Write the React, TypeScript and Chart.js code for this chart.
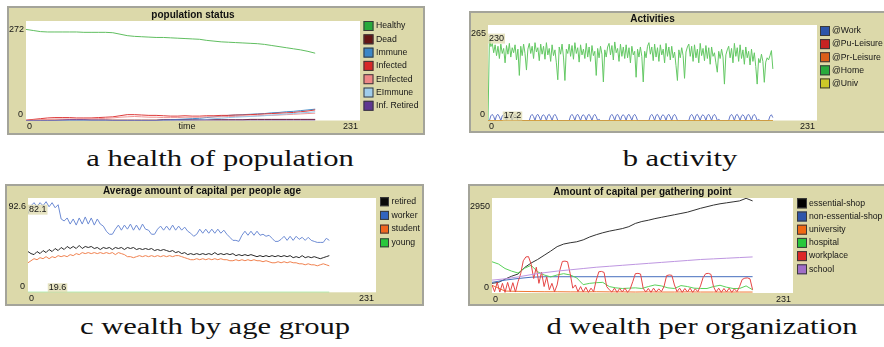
import React, { useEffect, useRef } from 'react';
import { Chart, registerables } from 'chart.js';

Chart.register(...registerables);

const FONT = '"Liberation Sans", Arial, Helvetica, sans-serif';
Chart.defaults.font.family = FONT;

// ---------------- Panel a: population status (t = 0..200, every 5 ticks) ----------------
const popStep = 5;
const healthyValues = [249, 246, 243, 242, 242, 242, 242, 242, 241, 241, 241, 241, 240, 236, 232, 230, 229, 228, 227, 227, 226, 225, 224, 223, 222, 219, 217, 215, 214, 213, 212, 211, 210, 208, 205, 202, 199, 196, 193, 189, 184];
const deadValues = [0, 1, 1, 1, 1, 1, 1, 1, 1, 1, 1, 1, 1, 1, 1, 1, 1, 1, 1, 2, 2, 2, 2, 2, 2, 2, 2, 2, 2, 2, 2, 3, 3, 3, 3, 3, 3, 3, 3, 3, 3];
const immuneValues = [0, 0, 0, 0, 0, 0, 0, 0, 0, 0, 0, 0, 0, 0, 0, 0, 0, 0, 0, 1, 2, 3, 4, 5, 6, 8, 10, 12, 14, 15, 16, 17, 18, 19, 21, 22, 24, 25, 27, 29, 31];
const infectedValues = [1, 3, 5, 7, 8, 8, 8, 7, 7, 7, 8, 9, 10, 13, 16, 16, 15, 14, 14, 13, 12, 12, 13, 12, 12, 13, 13, 14, 14, 15, 15, 16, 17, 18, 19, 20, 21, 22, 24, 26, 29];
const eInfectedValues = [0, 1, 2, 3, 4, 4, 4, 4, 5, 5, 5, 6, 7, 9, 10, 11, 10, 9, 9, 8, 8, 8, 9, 9, 9, 10, 10, 10, 11, 11, 12, 12, 13, 14, 14, 15, 16, 17, 18, 19, 20];
const eImmuneValues = [0, 0, 0, 0, 0, 0, 0, 0, 0, 0, 0, 0, 0, 0, 0, 0, 0, 0, 0, 0, 0, 0, 0, 1, 2, 3, 5, 6, 8, 9, 10, 11, 12, 13, 15, 16, 18, 19, 21, 22, 24];
const infRetiredValues = [0, 0, 0, 0, 0, 1, 2, 2, 2, 1, 1, 1, 0, 0, 0, 0, 0, 0, 0, 1, 1, 1, 1, 1, 1, 1, 1, 1, 1, 1, 1, 1, 1, 1, 1, 1, 1, 1, 1, 1, 1];
const popYMax = 272;

// ---------------- Panel b: activities (every tick, t = 0..200) ----------------
const homeAtTick = [
  0,
  230, 205, 214, 188, 210, 180, 206, 172, 212, 186,
  200, 160, 208, 184, 214, 176, 202, 188, 210, 168,
  198, 125, 206, 180, 212, 186, 140, 198,
  214, 186, 206, 172, 216, 190, 202, 166, 212, 184, 206, 170, 216, 182,
  200, 164, 210, 180, 196, 160, 113, 204, 184, 212, 176, 111, 198, 186,
  212, 178, 208, 170, 216, 186, 202, 162, 210, 182, 198, 172, 214, 176,
  204, 164, 208, 180, 192, 125, 200, 174, 206, 184, 107, 196, 176, 204,
  214, 182, 208, 168, 218, 188, 200, 164, 212, 178, 204, 172, 210, 174,
  202, 160, 206, 182, 192, 120, 198, 176, 204, 178, 107, 192, 174, 206,
  216, 184, 204, 166, 212, 176, 202, 164, 210, 182, 198, 160, 214, 178,
  204, 168, 206, 174, 190, 152, 111, 196, 174, 202, 180, 117, 190, 204,
  212, 178, 206, 164, 210, 174, 198, 160, 214, 180, 200, 166, 208, 172,
  202, 156, 204, 178, 188, 160, 134, 192, 172, 198, 176, 101, 182, 196,
  206, 174, 200, 160, 214, 178, 202, 164, 210, 172, 196, 156, 204, 174,
  192, 154, 198, 164, 188, 150, 101, 172, 160, 184, 164, 106, 162, 174,
  168, 180, 194, 143,
];
const workAtTick = [
  0,
  0, 13, 17, 11, 0, 14, 17, 10, 0, 13, 16, 11, 0, 14, 17, 10, 0, 13, 17, 11, 0, 0, 0, 0, 0, 0, 0, 0,
  0, 13, 17, 11, 0, 14, 17, 10, 0, 13, 16, 11, 0, 14, 17, 10, 0, 13, 17, 11, 0, 0, 0, 0, 0, 0, 0, 0,
  0, 13, 17, 11, 0, 14, 17, 10, 0, 13, 16, 11, 0, 14, 17, 10, 0, 13, 17, 11, 0, 3, 0, 0, 0, 0, 0, 0,
  0, 13, 17, 11, 0, 14, 17, 10, 0, 13, 16, 11, 0, 14, 17, 10, 0, 13, 17, 11, 0, 0, 0, 0, 0, 0, 0, 0,
  0, 13, 17, 11, 0, 14, 17, 10, 0, 13, 16, 11, 0, 14, 17, 10, 0, 13, 17, 11, 0, 0, 0, 0, 0, 0, 0, 0,
  0, 13, 17, 11, 0, 14, 17, 10, 0, 13, 16, 11, 0, 14, 17, 10, 0, 13, 17, 11, 0, 3, 0, 0, 0, 0, 0, 0,
  0, 13, 17, 11, 0, 14, 17, 10, 0, 13, 16, 11, 0, 14, 17, 10, 0, 13, 17, 11, 0, 3, 0, 0, 0, 0, 0, 0,
  0, 12, 16, 8,
];
const flatTimes = [0, 200];
const puLeisureValues = [0, 0];
const prLeisureValues = [0, 0];
const univValues = [0, 0];
const actYMax = 265;

// ---------------- Panel c: capital per age (every 2 ticks) ----------------
const ageStep = 2;
const workerValues = [
  77, 85, 88, 84, 88, 85, 89, 84, 88, 83,
  86, 72, 70, 73, 67, 72, 66, 73, 67, 74,
  67, 73, 66, 72, 67, 65, 60, 57, 57, 62,
  66, 61, 66, 62, 67, 61, 66, 61, 67, 62,
  61, 57, 57, 62, 65, 61, 65, 61, 66, 61,
  65, 61, 64, 60, 58, 55, 57, 62, 58, 62,
  58, 62, 58, 62, 58, 61, 57, 54, 51, 51,
  50, 56, 60, 56, 60, 56, 60, 56, 57, 55,
  56, 53, 50, 50, 52, 55, 51, 55, 51, 55,
  52, 54, 51, 54, 51, 50, 49, 49, 49, 53,
  51,
];
const retiredValues = [
  40, 38, 37, 40, 38, 41, 39, 42, 40, 43,
  41, 44, 42, 45, 43, 45, 43, 46, 43, 45,
  44, 45, 43, 44, 42, 44, 43, 44, 42, 44,
  43, 44, 42, 44, 43, 44, 42, 43, 42, 43,
  42, 43, 41, 42, 41, 42, 41, 40, 41, 39,
  40, 38, 39, 37, 38, 37, 38, 37, 38, 37,
  38, 37, 39, 37, 38, 37, 38, 37, 38, 36,
  37, 36, 37, 36, 37, 36, 35, 36, 35, 36,
  35, 36, 35, 36, 35, 36, 35, 36, 34, 35,
  34, 36, 34, 35, 34, 35, 34, 33, 34, 35,
  36,
];
const studentValues = [
  29, 31, 33, 32, 34, 33, 35, 33, 35, 34,
  36, 35, 36, 35, 37, 36, 38, 37, 39, 38,
  39, 38, 39, 38, 39, 38, 39, 38, 39, 37,
  39, 38, 37, 35, 35, 34, 35, 36, 35, 36,
  35, 36, 35, 36, 35, 36, 35, 36, 35, 36,
  36, 35, 34, 33, 32, 32, 33, 32, 33, 32,
  33, 32, 33, 32, 33, 32, 32, 31, 31, 32,
  31, 32, 31, 32, 31, 32, 31, 31, 30, 31,
  30, 29, 29, 30, 29, 30, 29, 30, 29, 29,
  28, 28, 27, 28, 27, 27, 26, 27, 28, 27,
  26,
];
const youngValues = [0, 0];
const ageYMax = 92.6;

// ---------------- Panel d: capital per gathering point ----------------
const shopStep = 5;
const essentialShopValues = [300, 330, 430, 520, 590, 790, 930, 1040, 1170, 1300, 1440, 1520, 1560, 1590, 1650, 1740, 1810, 1870, 1920, 1960, 2000, 2060, 2160, 2220, 2260, 2310, 2350, 2390, 2430, 2470, 2510, 2570, 2630, 2680, 2730, 2770, 2800, 2830, 2860, 2940, 2860];
const nonEssentialTimes = [0, 10, 20, 30, 40, 200];
const nonEssentialValues = [330, 400, 450, 490, 505, 507];
const slowStep = 10;
const universityValues = [240, 60, 50, 45, 40, 40, 35, 35, 40, 35, 35, 30, 35, 30, 30, 35, 30, 30, 30, 30, 30];
const hospitalValues = [970, 900, 760, 680, 620, 770, 860, 660, 560, 500, 560, 600, 560, 470, 260, 300, 320, 330, 200, 160, 140, 150, 160, 140, 200, 250, 220, 160, 140, 230, 200, 150, 140, 140, 200, 240, 180, 140, 140, 220, 100];
const workStep = 2;
const workplaceValues = [
  250, 40, 330, 30, 300, 20, 330, 40, 320, 30, 350,
  600, 1000, 1120, 1130, 900,
  450, 800, 300, 650, 200, 500, 100, 300, 40, 250,
  700, 980, 990, 970, 600,
  150, 250, 40, 200, 30, 180, 20, 150, 40,
  400, 660, 670, 640, 200,
  100, 30, 150, 20, 140, 30, 150, 20, 120,
  350, 600, 610, 590, 150,
  30, 140, 20, 150, 30, 130, 40, 200,
  540, 560, 550, 250,
  40, 150, 20, 140, 30, 150, 20, 130, 40, 220,
  480, 600, 610, 580, 200,
  30, 150, 20, 140, 30, 150, 20, 130, 40, 200,
  420, 460, 470, 440, 100,
];
const schoolValues = [400, 440, 500, 570, 630, 680, 720, 760, 800, 830, 860, 890, 920, 950, 980, 1010, 1040, 1060, 1080, 1100, 1120];
const capYMax = 2950;

const X_MAX = 231;

// ---------------- helpers ----------------
const stepPoints = (vals: number[], step: number) => vals.map((v, i) => ({ x: i * step, y: v }));
const pairPoints = (ts: number[], vals: number[]) => vals.map((v, i) => ({ x: ts[i], y: v }));

const ds = (label: string, data: any[], line: string, box: string) => ({
  label,
  data,
  borderColor: line,
  backgroundColor: box,
  borderWidth: 1,
  pointRadius: 0,
  tension: 0,
  fill: false,
});

const KHAKI = '#dcd9aa';
const BORDER = 2;
const TEXT = '#161616';
const LEGEND_FONT = `8.7px ${FONT}`;

type Panel = {
  key: string;
  title: string;
  left: number; top: number; width: number; height: number;
  openRight?: boolean;
  plot: { l: number; t: number; r: number; b: number };
  titleY: number;
  legend: { x: number; y: number; gap: number; box: number; textGap: number };
  yMax: number;
  yMaxLabel: string;
  xTitle?: string;
  notes?: { axis: 'x' | 'y'; value: number; text: string }[];
  datasets: any[];
};

const panels: Panel[] = [
  {
    key: 'a', title: 'population status',
    left: 7, top: 6, width: 418, height: 129,
    plot: { l: 26, t: 21, r: 360, b: 120.5 }, titleY: 15,
    legend: { x: 363.5, y: 26, gap: 13.3, box: 10, textGap: 2.5 },
    yMax: popYMax, yMaxLabel: String(popYMax), xTitle: 'time',
    datasets: [
      ds('Healthy', stepPoints(healthyValues, popStep), 'rgb(96,190,96)', 'rgb(40,170,60)'),
      ds('Dead', stepPoints(deadValues, popStep), 'rgb(110,25,25)', 'rgb(100,20,20)'),
      ds('Immune', stepPoints(immuneValues, popStep), 'rgb(70,140,200)', 'rgb(60,135,200)'),
      ds('Infected', stepPoints(infectedValues, popStep), 'rgb(222,60,60)', 'rgb(215,40,40)'),
      ds('EInfected', stepPoints(eInfectedValues, popStep), 'rgb(240,150,150)', 'rgb(238,135,135)'),
      ds('EImmune', stepPoints(eImmuneValues, popStep), 'rgb(150,200,235)', 'rgb(160,205,235)'),
      ds('Inf. Retired', stepPoints(infRetiredValues, popStep), 'rgb(100,60,150)', 'rgb(95,55,145)'),
    ],
  },
  {
    key: 'b', title: 'Activities',
    left: 469, top: 11, width: 415, height: 122, openRight: true,
    plot: { l: 488, t: 25, r: 817, b: 120.5 }, titleY: 19,
    legend: { x: 820, y: 31, gap: 13.1, box: 10, textGap: 2 },
    yMax: actYMax, yMaxLabel: String(actYMax),
    notes: [
      { axis: 'y', value: 230, text: '230' },
      { axis: 'x', value: 17.2, text: '17.2' },
    ],
    datasets: [
      ds('@Work', stepPoints(workAtTick, 1), 'rgb(100,120,200)', 'rgb(45,85,170)'),
      ds('@Pu-Leisure', pairPoints(flatTimes, puLeisureValues), 'rgb(200,40,40)', 'rgb(200,35,35)'),
      ds('@Pr-Leisure', pairPoints(flatTimes, prLeisureValues), 'rgb(225,100,30)', 'rgb(220,95,25)'),
      ds('@Home', stepPoints(homeAtTick, 1), 'rgb(100,200,100)', 'rgb(40,170,60)'),
      ds('@Univ', pairPoints(flatTimes, univValues), 'rgb(205,205,60)', 'rgb(205,200,40)'),
    ],
  },
  {
    key: 'c', title: 'Average amount of capital per people age',
    left: 5, top: 184, width: 419, height: 122,
    plot: { l: 28, t: 198, r: 376, b: 292.3 }, titleY: 191,
    legend: { x: 380, y: 201.7, gap: 13.7, box: 9, textGap: 2.5 },
    yMax: ageYMax, yMaxLabel: String(ageYMax),
    notes: [
      { axis: 'y', value: 82.1, text: '82.1' },
      { axis: 'x', value: 19.6, text: '19.6' },
    ],
    datasets: [
      ds('retired', stepPoints(retiredValues, ageStep), 'rgb(40,40,40)', 'rgb(10,10,10)'),
      ds('worker', stepPoints(workerValues, ageStep), 'rgb(110,140,212)', 'rgb(50,100,190)'),
      ds('student', stepPoints(studentValues, ageStep), 'rgb(240,130,80)', 'rgb(240,100,30)'),
      ds('young', pairPoints(flatTimes, youngValues), 'rgb(80,210,80)', 'rgb(40,200,60)'),
    ],
  },
  {
    key: 'd', title: 'Amount of capital per gathering point',
    left: 468, top: 184, width: 416, height: 122, openRight: true,
    plot: { l: 492, t: 198, r: 793, b: 293 }, titleY: 192,
    legend: { x: 797, y: 203.3, gap: 13.2, box: 10, textGap: 2 },
    yMax: capYMax, yMaxLabel: String(capYMax),
    datasets: [
      ds('essential-shop', stepPoints(essentialShopValues, shopStep), 'rgb(50,50,50)', 'rgb(0,0,0)'),
      ds('non-essential-shop', pairPoints(nonEssentialTimes, nonEssentialValues), 'rgb(70,110,190)', 'rgb(45,85,170)'),
      ds('university', stepPoints(universityValues, slowStep), 'rgb(240,120,50)', 'rgb(240,105,20)'),
      ds('hospital', stepPoints(hospitalValues, shopStep), 'rgb(90,210,90)', 'rgb(40,200,60)'),
      ds('workplace', stepPoints(workplaceValues, workStep), 'rgb(230,70,70)', 'rgb(220,40,40)'),
      ds('school', stepPoints(schoolValues, slowStep), 'rgb(190,150,225)', 'rgb(160,110,200)'),
    ],
  },
];

const NOTE_BG = 'rgba(222,218,172,0.75)';

function makePlugin(p: Panel) {
  const ox = p.left + BORDER;
  const oy = p.top + BORDER;
  return {
    id: 'netlogo_' + p.key,
    beforeDraw(chart: any) {
      const { ctx, chartArea: a } = chart;
      ctx.save();
      ctx.fillStyle = '#ffffff';
      ctx.fillRect(a.left, a.top, a.right - a.left, a.bottom - a.top);
      ctx.restore();
    },
    afterDraw(chart: any) {
      const { ctx, chartArea: a, scales } = chart;
      ctx.save();
      ctx.font = `9px ${FONT}`;
      ctx.fillStyle = TEXT;
      ctx.textBaseline = 'middle';
      // y labels
      ctx.textAlign = 'right';
      ctx.fillText(p.yMaxLabel, a.left - 2, a.top + 9);
      ctx.fillText(String(scales.y.min), a.left - 3, a.bottom - 5.5);
      // x labels
      ctx.textAlign = 'left';
      ctx.fillText(String(scales.x.min), a.left + 1, a.bottom + 6.5);
      ctx.textAlign = 'right';
      ctx.fillText(String(scales.x.max), a.right - 2, a.bottom + 6.5);
      if (p.xTitle) {
        ctx.textAlign = 'center';
        ctx.fillText(p.xTitle, (a.left + a.right) / 2 - 6, a.bottom + 6.5);
      }
      // coordinate notes
      for (const n of p.notes || []) {
        const w = ctx.measureText(n.text).width;
        if (n.axis === 'y') {
          const y = scales.y.getPixelForValue(n.value) + 1;
          ctx.fillStyle = NOTE_BG;
          ctx.fillRect(a.left, y - 5, w + 2, 10);
          ctx.fillStyle = TEXT;
          ctx.textAlign = 'left';
          ctx.textBaseline = 'middle';
          ctx.fillText(n.text, a.left + 1, y);
        } else {
          const x = scales.x.getPixelForValue(n.value);
          ctx.fillStyle = NOTE_BG;
          ctx.fillRect(x - w / 2 - 1, a.bottom - 9, w + 2, 9);
          ctx.fillStyle = TEXT;
          ctx.textAlign = 'center';
          ctx.textBaseline = 'bottom';
          ctx.fillText(n.text, x, a.bottom - 0.5);
        }
      }
      // legend
      const L = p.legend;
      const lx = L.x - ox;
      ctx.font = LEGEND_FONT;
      p.datasets.forEach((d, i) => {
        const cy = L.y - oy + i * L.gap;
        ctx.fillStyle = d.backgroundColor;
        ctx.fillRect(lx, cy - L.box / 2, L.box, L.box);
        ctx.strokeStyle = '#3a3a3a';
        ctx.lineWidth = 1;
        ctx.strokeRect(lx + 0.5, cy - L.box / 2 + 0.5, L.box - 1, L.box - 1);
        ctx.fillStyle = TEXT;
        ctx.textAlign = 'left';
        ctx.textBaseline = 'middle';
        ctx.fillText(d.label, lx + L.box + L.textGap, cy);
      });
      ctx.restore();
    },
  };
}

function PlotPanel({ p }: { p: Panel }) {
  const ref = useRef<HTMLCanvasElement | null>(null);
  const iw = p.width - (p.openRight ? BORDER : 2 * BORDER);
  const ih = p.height - 2 * BORDER;
  useEffect(() => {
    const canvas = ref.current;
    if (!canvas) return;
    const ox = p.left + BORDER;
    const oy = p.top + BORDER;
    const padL = p.plot.l - ox;
    const padR = ox + iw - p.plot.r;
    const padB = oy + ih - p.plot.b;
    const tTop = Math.max(0, p.titleY - oy - 5);
    const tBottom = Math.max(0, p.plot.t - oy - 10 - tTop);
    const n = p.datasets.length;
    const chart = new Chart(canvas, {
      type: 'line',
      data: { datasets: p.datasets.map((d, i) => ({ ...d, order: n - i })) },
      options: {
        animation: false,
        responsive: false,
        devicePixelRatio: 1,
        events: [],
        layout: { padding: { left: padL, right: padR, top: 0, bottom: padB } },
        scales: {
          x: { type: 'linear', min: 0, max: X_MAX, display: false },
          y: { type: 'linear', min: 0, max: p.yMax, display: false },
        },
        plugins: {
          legend: { display: false },
          tooltip: { enabled: false },
          title: {
            display: true,
            text: p.title,
            fullSize: false,
            color: '#111',
            padding: { top: tTop, bottom: tBottom },
            font: { family: FONT, size: 10, weight: 'bold', lineHeight: 1 },
          },
        },
      } as any,
      plugins: [makePlugin(p)],
    });
    return () => chart.destroy();
  }, [p]);
  return (
    <div
      style={{
        position: 'absolute',
        left: p.left,
        top: p.top,
        width: p.width,
        height: p.height,
        boxSizing: 'border-box',
        border: `${BORDER}px solid #a4a49a`,
        borderRight: p.openRight ? 'none' : `${BORDER}px solid #a4a49a`,
        background: KHAKI,
      }}
    >
      <canvas ref={ref} width={iw} height={ih} style={{ display: 'block', width: iw, height: ih }} />
    </div>
  );
}

const captions = [
  { text: 'a health of population', cx: 219.5, baseline: 166 },
  { text: 'b activity', cx: 679.5, baseline: 166 },
  { text: 'c wealth by age group', cx: 215, baseline: 334 },
  { text: 'd wealth per organization', cx: 701.5, baseline: 334 },
];

export default function App() {
  return (
    <div
      style={{
        position: 'absolute',
        left: 0,
        top: 0,
        width: 884,
        height: 347,
        background: '#ffffff',
        overflow: 'hidden',
      }}
    >
      {panels.map((p) => (
        <PlotPanel key={p.key} p={p} />
      ))}
      {captions.map((c) => (
        <div
          key={c.text}
          style={{
            position: 'absolute',
            left: c.cx - 250,
            top: c.baseline - 19.3,
            width: 500,
            textAlign: 'center',
            fontFamily: '"Liberation Serif", "Times New Roman", serif',
            fontSize: 23,
            lineHeight: '23px',
            color: '#111',
            whiteSpace: 'nowrap',
            transform: 'scaleX(1.33)',
            transformOrigin: '250px 50%',
          }}
        >
          {c.text}
        </div>
      ))}
    </div>
  );
}
